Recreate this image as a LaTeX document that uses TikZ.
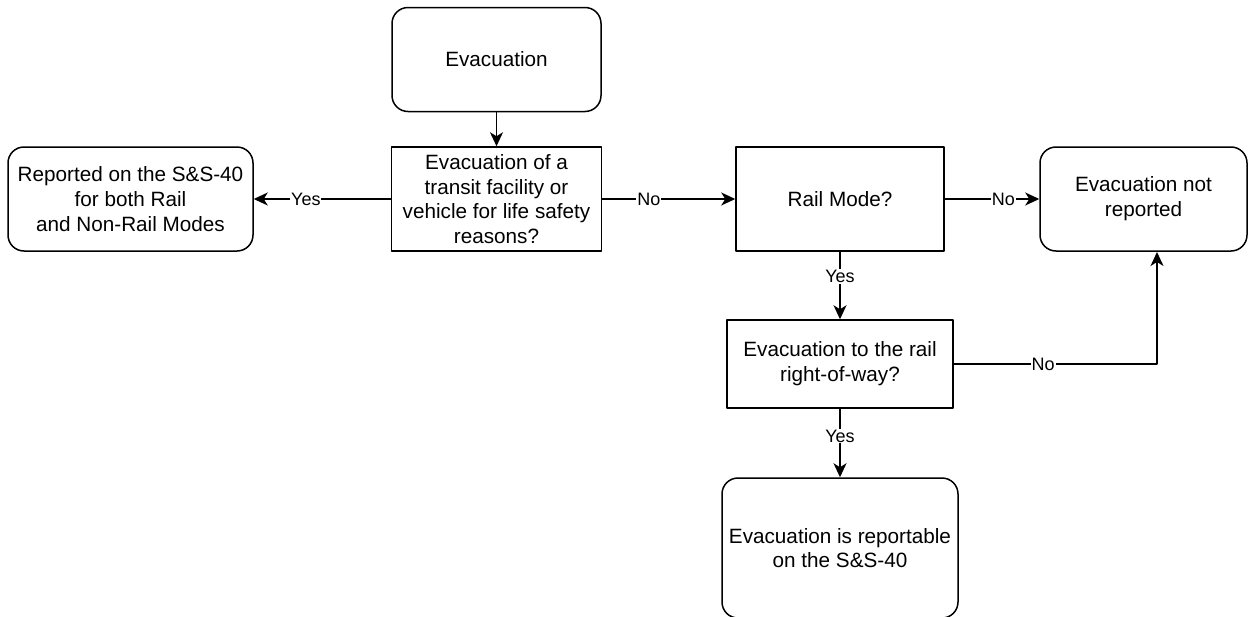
\documentclass[tikz,border=0pt]{standalone}
\usepackage{fontspec}
\setmainfont{Liberation Sans}
\usetikzlibrary{arrows.meta}

\begin{document}
\begin{tikzpicture}[x=1pt,y=-1pt,line width=1.5pt,line join=round,
    box/.style={draw,align=center,inner sep=4pt,font=\fontsize{20.7}{24.8}\selectfont},
    term/.style={box,rounded corners=16pt},
    lab/.style={fill=white,inner sep=1pt,font=\fontsize{18}{21}\selectfont},
    >={Stealth[length=14pt,width=13pt,inset=4pt]}]
      \useasboundingbox (0,0) rectangle (1248,616);

      \node[term,minimum width=209pt,minimum height=104pt] (evac) at (496.5,59.5) {Evacuation};
      \node[box,minimum width=210pt,minimum height=104pt] (life) at (496.5,199)
            {Evacuation of a\\transit facility or\\vehicle for life safety\\reasons?};
      \node[term,minimum width=245pt,minimum height=104pt] (both) at (130.5,199)
            {Reported on the S\&S-40\\for both Rail\\and Non-Rail Modes};
      \node[box,minimum width=208pt,minimum height=104pt] (rail) at (840,199) {Rail Mode?};
      \node[term,minimum width=207pt,minimum height=104pt] (notrep) at (1143.5,199)
            {Evacuation not\\reported};
      \node[box,minimum width=226pt,minimum height=88pt] (row) at (840,364)
            {Evacuation to the rail\\right-of-way?};
      \node[term,minimum width=236pt,minimum height=140pt] (report) at (840,548)
            {Evacuation is reportable\\on the S\&S-40};
      \coordinate (up) at (1157,252);

      \draw[->] (evac)--(life);
      \draw[->] (life)-- node[lab,pos=0.62] {Yes} (both);
      \draw[->] (life)-- node[lab,pos=0.35] {No} (rail);
      \draw[->] (rail)-- node[lab,pos=0.62] {No} (notrep);
      \draw[->] (rail)-- node[lab,pos=0.37] {Yes} (row);
      \draw[->] (row.east) -| node[lab,pos=0.22] {No} (up);
      \draw[->] (row)-- node[lab,pos=0.4] {Yes} (report);
\end{tikzpicture}
\end{document}
